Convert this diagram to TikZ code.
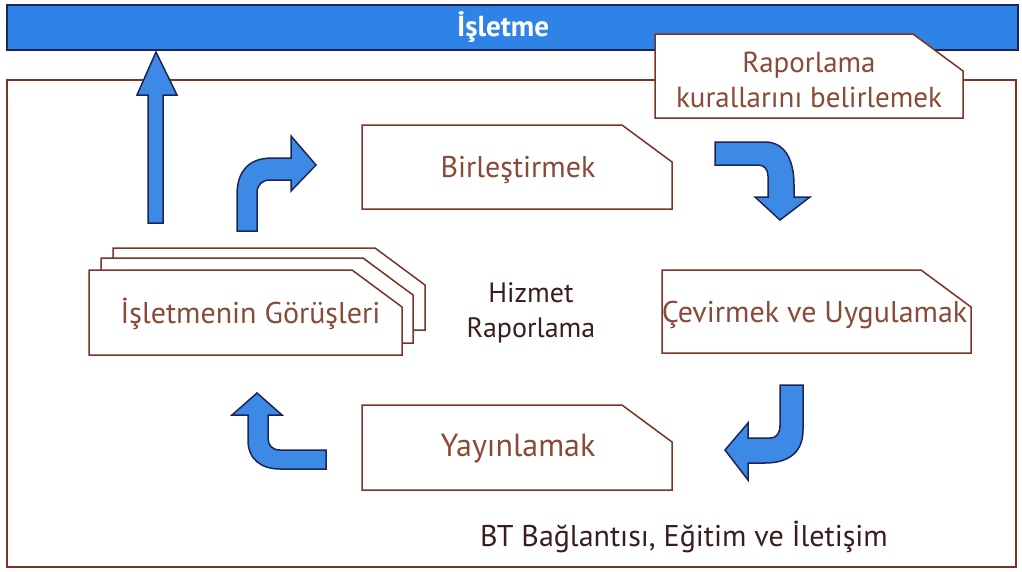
\documentclass[tikz,border=0pt]{standalone}
\usepackage{fontspec}
\setmainfont{PT Sans}
\begin{document}
\definecolor{barblue}{HTML}{2F82E6}
\definecolor{arrowblue}{HTML}{3C8AE6}
\definecolor{navy}{HTML}{1C2556}
\definecolor{frameline}{HTML}{7B3326}
\definecolor{boxtext}{HTML}{8A4A38}
\definecolor{darktext}{HTML}{3A1E1E}
\tikzset{
  boxline/.style={draw=frameline, line width=1.5pt, fill=white, line join=miter},
  blockarrow/.style={draw=navy, line width=1.5pt, fill=arrowblue, line join=miter},
  boxlabel/.style={text=boxtext, font=\fontsize{29}{35}\selectfont, align=center, inner sep=0pt},
  plainlabel/.style={text=darktext, font=\fontsize{28}{35}\selectfont, align=center, inner sep=0pt}
}
% box with the upper right corner cut off: name, left, top, right, bottom
\newcommand\tagbox[5]{%
  \draw[boxline] (#2,#3) -- (#4-50,#3) -- (#4,#3+37) -- (#4,#5) -- (#2,#5) -- cycle;
  \coordinate (#1) at ({(#2+#4)/2},{(#3+#5)/2});
}
\begin{tikzpicture}[x=1pt,y=-1pt]
\useasboundingbox (0,0) rectangle (1022,571);

% outer frame
\draw[draw=frameline, line width=1.5pt] (7,80) rectangle (1016,567);

% top bar
\draw[draw=navy, line width=1.5pt, fill=barblue] (7,5) rectangle (1018,50);
\node[text=white, font=\bfseries\fontsize{29}{34}\selectfont, inner sep=0pt] (bar) at (503,27) {İşletme};

% stacked views
\tagbox{viewsC}{113}{248}{425}{330}
\tagbox{viewsB}{101}{258}{413}{343}
\tagbox{views}{89}{270}{402}{355}
\node[boxlabel, font=\fontsize{30}{35}\selectfont] (viewslabel) at ([xshift=5pt,yshift=-1pt]views) {İşletmenin Görüşleri};

% step boxes
\tagbox{rules}{655}{34}{963}{118}
\node[boxlabel] (ruleslabel) at ([yshift=-3.5pt]rules) {Raporlama\\kurallarını belirlemek};

\tagbox{merge}{362}{125}{672}{209}
\node[boxlabel, font=\fontsize{30}{35}\selectfont] (mergelabel) at ([xshift=1pt,yshift=-3pt]merge) {Birleştirmek};

\tagbox{apply}{662}{270}{971}{353}
\node[boxlabel, font=\fontsize{30}{35}\selectfont] (applylabel) at ([xshift=-2pt,yshift=-3pt]apply) {Çevirmek ve Uygulamak};

\tagbox{publish}{362}{405}{672}{490}
\node[boxlabel, font=\fontsize{32}{35}\selectfont] (publishlabel) at ([xshift=1pt,yshift=-1pt]publish) {Yayınlamak};

% centre and footer labels
\node[plainlabel] (service) at (531,313) {Hizmet\\Raporlama};
\node[plainlabel, font=\fontsize{30}{35}\selectfont, anchor=west] (footer) at (480,537) {BT Bağlantısı, Eğitim ve İletişim};

% block arrows
% views -> top bar
\draw[blockarrow] (148,223) -- (148,95) -- (137,95) -- (156,52) -- (177,95) -- (163,95) -- (163,223) -- cycle;
% views -> merge
\draw[blockarrow] (237,231) -- (237,195) .. controls (237,170) and (250,158) .. (272,158)
  -- (291,158) -- (291,136) -- (316,165) -- (291,191) -- (291,180) -- (270,180)
  .. controls (262,180) and (257,185) .. (257,193) -- (257,231) -- cycle;
% rules -> apply
\draw[blockarrow] (715,142) -- (765,142) .. controls (785,142) and (794,160) .. (794,185)
  -- (794,197) -- (810,197) -- (780,220) -- (755,197) -- (768,197) -- (768,176)
  .. controls (768,169) and (764,165) .. (758,165) -- (715,165) -- cycle;
% apply -> publish
\draw[blockarrow] (780,385) -- (803,385) -- (803,430) .. controls (803,455) and (785,463) .. (765,463)
  -- (748,463) -- (748,480) -- (725,450) -- (748,423) -- (748,438) -- (770,438)
  .. controls (777,438) and (780,433) .. (780,425) -- cycle;
% publish -> views
\draw[blockarrow] (326,450) -- (280,450) .. controls (272,450) and (268,445) .. (268,438)
  -- (268,415) -- (282,415) -- (257,393) -- (232,415) -- (248,415) -- (248,440)
  .. controls (248,460) and (262,469) .. (280,469) -- (326,469) -- cycle;
\end{tikzpicture}
\end{document}
